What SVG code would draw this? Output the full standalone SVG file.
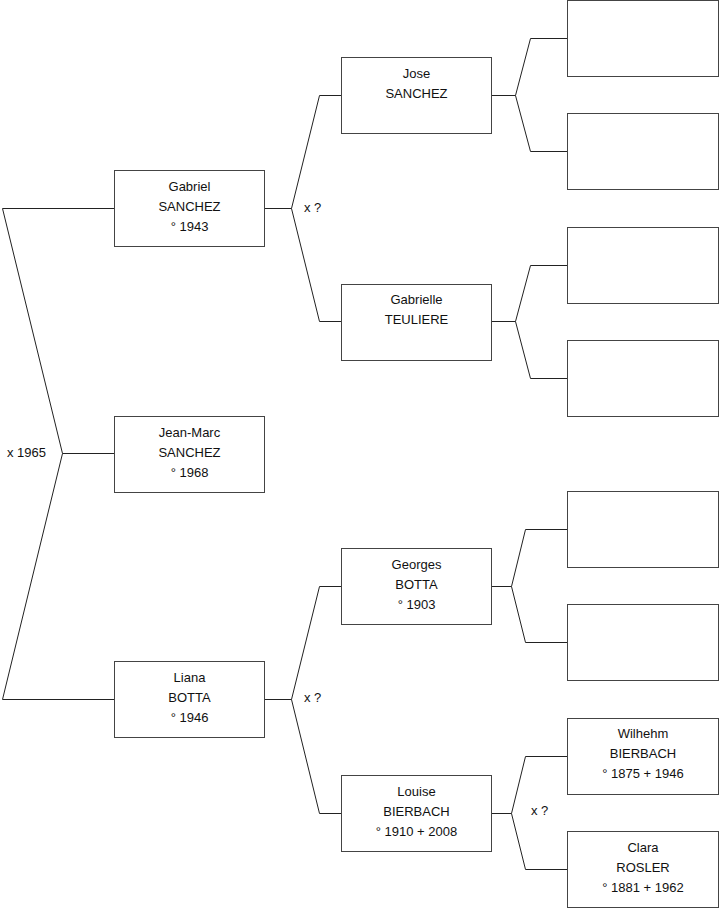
<svg xmlns="http://www.w3.org/2000/svg" width="719" height="908" viewBox="0 0 719 908">
<style>
.box{fill:#fff;stroke:#444;stroke-width:1}
.c{fill:none;stroke:#222;stroke-width:1}
text{font-family:"Liberation Sans",Arial,sans-serif;font-size:13px;fill:#111}
.m{text-anchor:middle}
</style>
<rect width="719" height="908" fill="#fff"/>
<g id="connectors">
<path class="c" d="M114,208.5 H2.5 L62.5,453.5 L2.5,699.5 H114 M62.5,453.5 H114"/>
<path class="c" d="M265,208.5 H291.5 L319.5,95.5 H341 M291.5,208.5 L319.5,321.5 H341"/>
<path class="c" d="M265,699.5 H291.5 L319.5,586.5 H341 M291.5,699.5 L319.5,813.5 H341"/>
<path class="c" d="M492,95.5 H515.5 L530.5,38.5 H567 M515.5,95.5 L530.5,151.5 H567"/>
<path class="c" d="M492,321.5 H515.5 L530.5,265.5 H567 M515.5,321.5 L530.5,378.5 H567"/>
<path class="c" d="M492,586.5 H511.5 L525.5,529.5 H567 M511.5,586.5 L525.5,642.5 H567"/>
<path class="c" d="M492,813.5 H511.5 L525.5,756.5 H567 M511.5,813.5 L525.5,869.5 H567"/>
<text x="7" y="457">x 1965</text>
<text x="304" y="212">x ?</text>
<text x="304" y="702">x ?</text>
<text x="531" y="815">x ?</text>
</g>
<g id="gabriel"><rect class="box" x="114.5" y="170.5" width="150" height="76"/>
<text class="m" x="189.5" y="191">Gabriel</text><text class="m" x="189.5" y="211">SANCHEZ</text><text class="m" x="189.5" y="231">° 1943</text></g>
<g id="jeanmarc"><rect class="box" x="114.5" y="416.5" width="150" height="76"/>
<text class="m" x="189.5" y="437">Jean-Marc</text><text class="m" x="189.5" y="457">SANCHEZ</text><text class="m" x="189.5" y="477">° 1968</text></g>
<g id="liana"><rect class="box" x="114.5" y="661.5" width="150" height="76"/>
<text class="m" x="189.5" y="682">Liana</text><text class="m" x="189.5" y="702">BOTTA</text><text class="m" x="189.5" y="722">° 1946</text></g>
<g id="jose"><rect class="box" x="341.5" y="57.5" width="150" height="76"/>
<text class="m" x="416.5" y="78">Jose</text><text class="m" x="416.5" y="98">SANCHEZ</text></g>
<g id="gabrielle"><rect class="box" x="341.5" y="284.5" width="150" height="76"/>
<text class="m" x="416.5" y="304">Gabrielle</text><text class="m" x="416.5" y="324">TEULIERE</text></g>
<g id="georges"><rect class="box" x="341.5" y="548.5" width="150" height="76"/>
<text class="m" x="416.5" y="569">Georges</text><text class="m" x="416.5" y="589">BOTTA</text><text class="m" x="416.5" y="609">° 1903</text></g>
<g id="louise"><rect class="box" x="341.5" y="775.5" width="150" height="76"/>
<text class="m" x="416.5" y="796">Louise</text><text class="m" x="416.5" y="816">BIERBACH</text><text class="m" x="416.5" y="836">° 1910 + 2008</text></g>
<g id="p1"><rect class="box" x="567.5" y="0.5" width="151" height="76"/></g>
<g id="p2"><rect class="box" x="567.5" y="113.5" width="151" height="76"/></g>
<g id="p3"><rect class="box" x="567.5" y="227.5" width="151" height="76"/></g>
<g id="p4"><rect class="box" x="567.5" y="340.5" width="151" height="76"/></g>
<g id="p5"><rect class="box" x="567.5" y="491.5" width="151" height="76"/></g>
<g id="p6"><rect class="box" x="567.5" y="604.5" width="151" height="76"/></g>
<g id="wilhehm"><rect class="box" x="567.5" y="718.5" width="151" height="76"/>
<text class="m" x="643" y="738">Wilhehm</text><text class="m" x="643" y="758">BIERBACH</text><text class="m" x="643" y="778">° 1875 + 1946</text></g>
<g id="clara"><rect class="box" x="567.5" y="831.5" width="151" height="76"/>
<text class="m" x="643" y="852">Clara</text><text class="m" x="643" y="872">ROSLER</text><text class="m" x="643" y="892">° 1881 + 1962</text></g>
</svg>
